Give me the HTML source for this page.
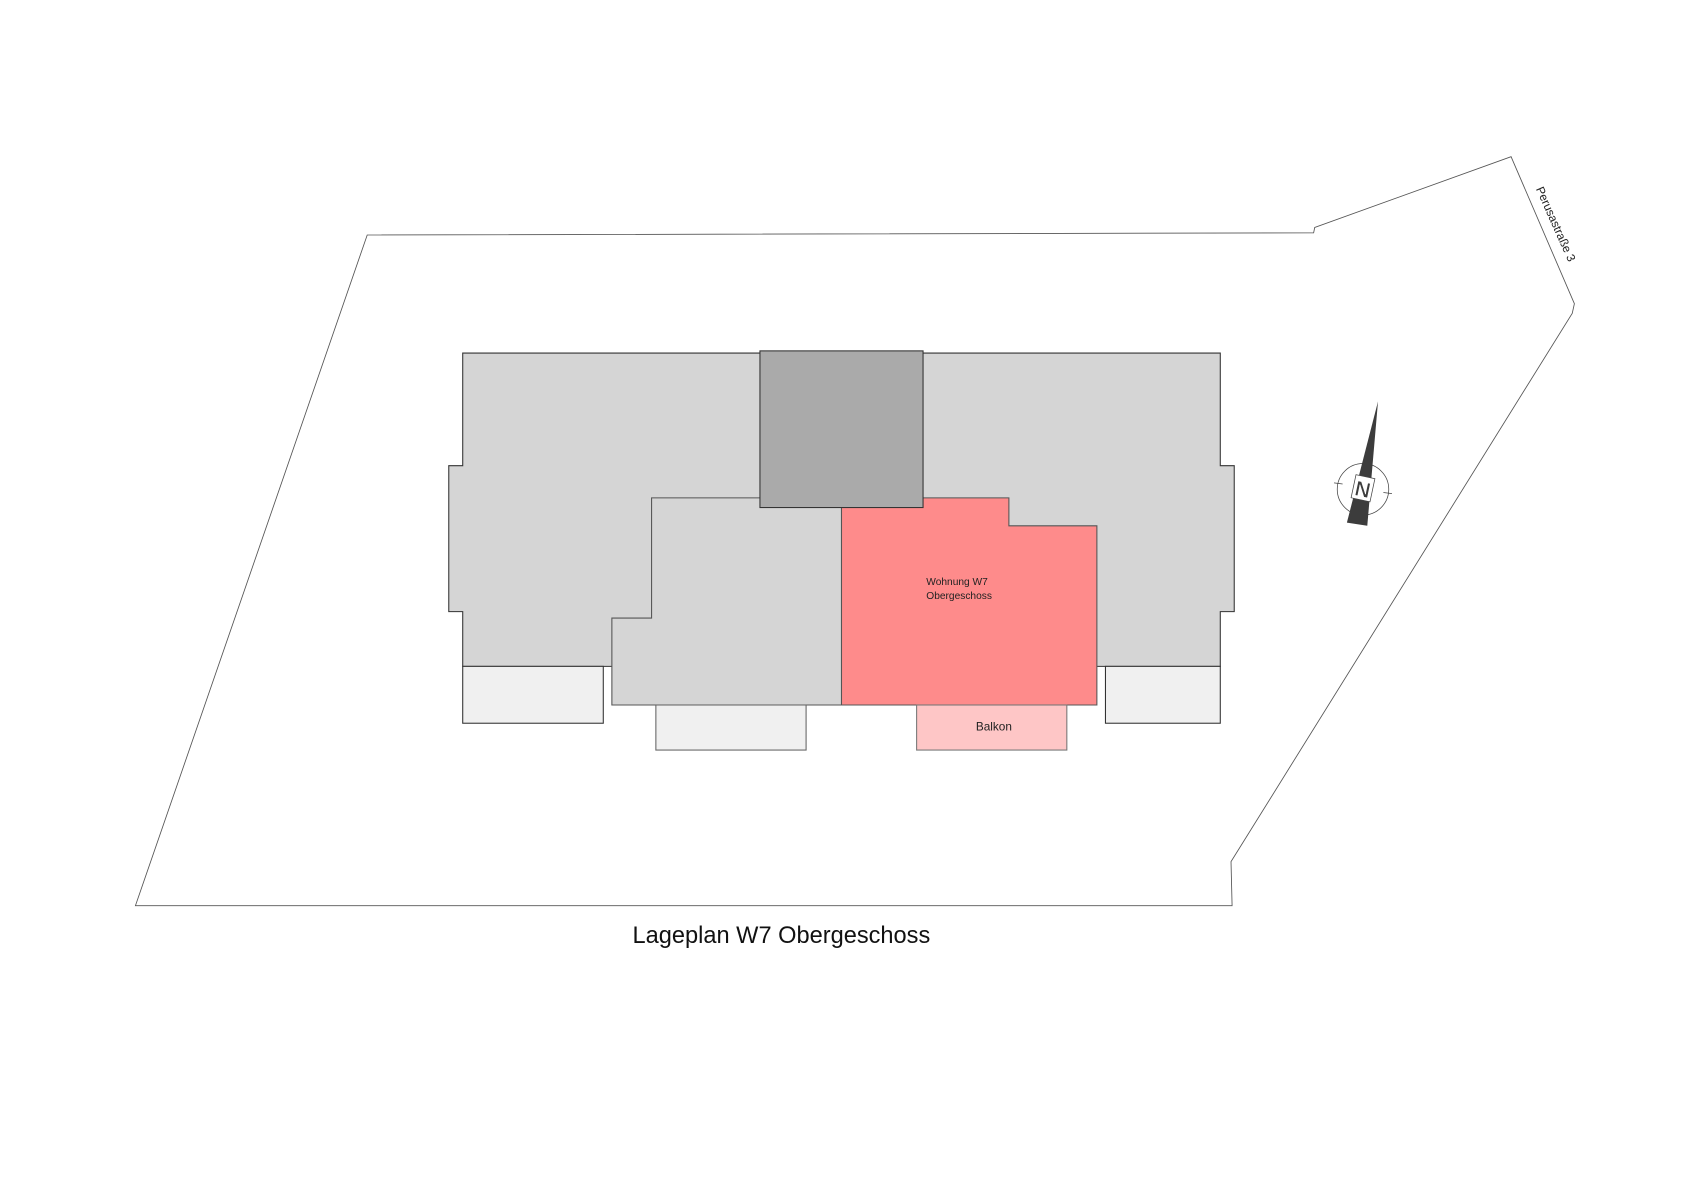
<!DOCTYPE html>
<html><head><meta charset="utf-8"><style>html,body{margin:0;padding:0;background:#fff}svg{display:block}</style></head>
<body>
<svg width="1683" height="1190" viewBox="0 0 1568 1109" xmlns="http://www.w3.org/2000/svg" font-family="Liberation Sans, sans-serif">
<polygon points="342,219 1224,217 1225,212 1408,146 1467,283 1465,292 1147,803 1148,844 126,844" fill="#fff" stroke="#555" stroke-width="0.8"/>
<polygon points="431,329 1137,329 1137,434 1150,434 1150,570 1137,570 1137,621 431,621 431,570 418,570 418,434 431,434" fill="#d5d5d5" stroke="#333" stroke-width="1"/>
<polygon points="607,464 784,464 784,657 570,657 570,576 607,576" fill="#d5d5d5" stroke="#555" stroke-width="1"/>
<polygon points="784,464 940,464 940,490 1022,490 1022,657 784,657" fill="#fe8b8b" stroke="#555" stroke-width="1"/>
<rect x="708" y="327" width="152" height="146" fill="#aaa" stroke="#333" stroke-width="1"/>
<rect x="431" y="621" width="131" height="53" fill="#f0f0f0" stroke="#333" stroke-width="1"/>
<rect x="611" y="657" width="140" height="42" fill="#f0f0f0" stroke="#666" stroke-width="1"/>
<rect x="1030" y="621" width="107" height="53" fill="#f0f0f0" stroke="#333" stroke-width="1"/>
<rect x="854" y="657" width="140" height="42" fill="#fec6c6" stroke="#777" stroke-width="1"/>
<text x="863" y="545" font-size="9.5" fill="#222">Wohnung W7</text>
<text x="863" y="558" font-size="9.5" fill="#222">Obergeschoss</text>
<text x="926" y="681" font-size="11" fill="#222" text-anchor="middle">Balkon</text>
<text x="728" y="879" font-size="22" fill="#111" text-anchor="middle">Lageplan W7 Obergeschoss</text>
<text transform="translate(1431,176) rotate(66)" font-size="11" fill="#222">Perusastraße 3</text>
<g stroke="#444" stroke-width="0.7" fill="none">
<circle cx="1270" cy="456" r="24"/>
<line x1="1243" y1="450" x2="1251" y2="451"/>
<line x1="1289" y1="459" x2="1297" y2="460"/>
</g>
<polygon points="1284,374 1274,490 1255,487" fill="#3c3c3c"/>
<g transform="translate(1270,455) rotate(12)">
<rect x="-9" y="-11" width="18" height="22" fill="#fff" stroke="#444" stroke-width="0.7"/>
<text x="0" y="8" font-size="20" font-weight="bold" fill="#3c3c3c" text-anchor="middle" stroke="#fff" stroke-width="0.6">N</text>
</g>
</svg>
</body></html>
